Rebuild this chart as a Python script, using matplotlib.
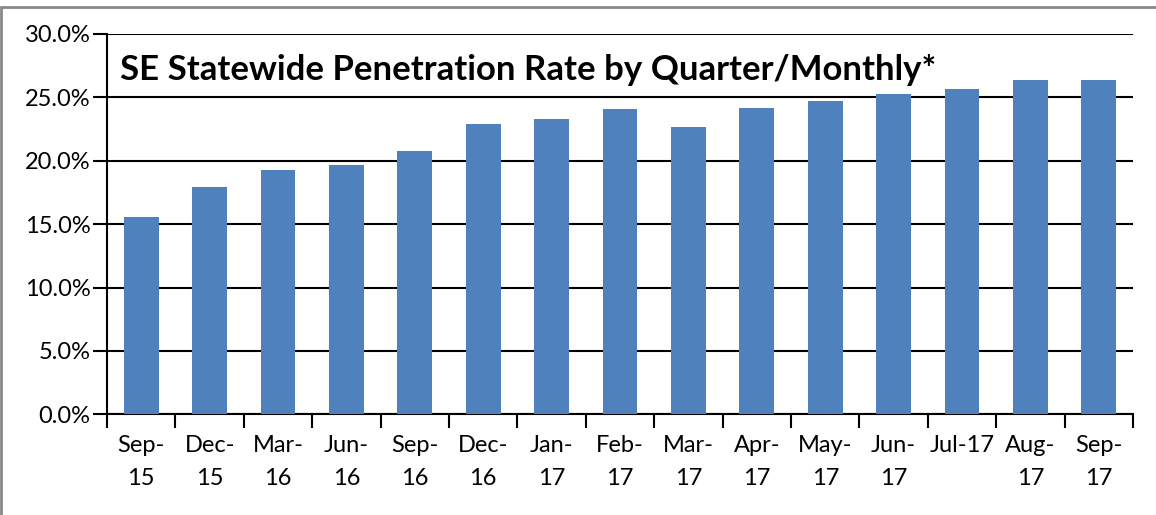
import numpy as np
import matplotlib.pyplot as plt
from matplotlib.patches import Rectangle
from matplotlib.ticker import FixedLocator, FuncFormatter

# 분기/월별 보급률 (%)
labels = ["Sep-\n15", "Dec-\n15", "Mar-\n16", "Jun-\n16", "Sep-\n16", "Dec-\n16",
          "Jan-\n17", "Feb-\n17", "Mar-\n17", "Apr-\n17", "May-\n17", "Jun-\n17",
          "Jul-17\n", "Aug-\n17", "Sep-\n17"]
rates = [15.6, 17.9, 19.3, 19.7, 20.8, 22.9, 23.3, 24.1, 22.7, 24.2, 24.7,
         25.3, 25.7, 26.4, 26.4]
yticks = [0, 5, 10, 15, 20, 25, 30]
title = "SE Statewide Penetration Rate by Quarter/Monthly*"

plt.rcParams['font.family'] = ['Lato', 'DejaVu Sans']

fig = plt.figure(figsize=(11.56, 5.15), dpi=100)
ax = fig.add_axes([0.0926, 0.1955, 0.8875, 0.7385])

x = np.arange(len(rates))
ax.bar(x, rates, width=0.51, color='#4F81BD', zorder=3)

ax.set_xlim(-0.5, len(rates) - 0.5)
ax.set_ylim(0, 30)
ax.set_yticks(yticks)
ax.yaxis.set_major_formatter(FuncFormatter(lambda v, p: f"{v:.1f}%"))
ax.grid(axis='y', color='black', linewidth=1.5, zorder=1)

# x축 눈금은 카테고리 경계에, 라벨은 가운데에
ax.xaxis.set_major_locator(FixedLocator(np.arange(len(rates) + 1) - 0.5))
ax.xaxis.set_minor_locator(FixedLocator(x))
ax.set_xticklabels([])
ax.set_xticklabels(labels, minor=True, linespacing=1.7)
ax.tick_params(axis='x', which='major', length=10, width=1.5, direction='out')
ax.tick_params(axis='x', which='minor', length=0, pad=15, labelsize=17)
ax.tick_params(axis='y', length=10, width=1.5, labelsize=17, pad=2)

for s in ['top', 'right']:
    ax.spines[s].set_visible(False)
for s in ['left', 'bottom']:
    ax.spines[s].set_linewidth(1.5)

fig.text(0.104, 0.845, title, fontsize=25, fontweight='bold', va='baseline')

# 바깥 회색 테두리
fig.patches.append(Rectangle((0.0005, -0.05), 1.2, 1.036, transform=fig.transFigure,
                             fill=False, edgecolor='#888888', linewidth=2))

fig.savefig("out.png", dpi=100)
